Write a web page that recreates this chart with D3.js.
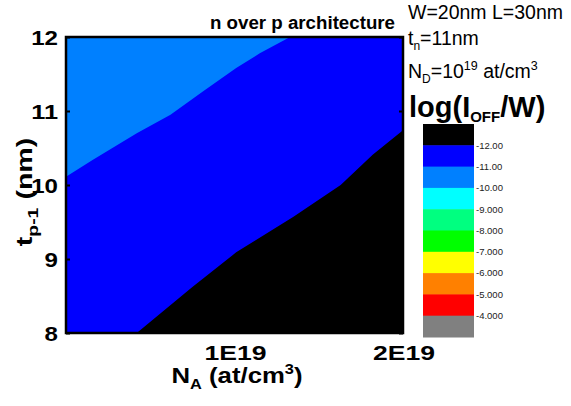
<!DOCTYPE html>
<html><head><meta charset="utf-8">
<script src="https://cdn.jsdelivr.net/npm/d3@7"></script>
<style>body{margin:0;background:#fff}svg{display:block}text{font-family:"Liberation Sans",Arial,sans-serif}</style>
</head><body><svg id="c" width="571" height="406"></svg>
<script>
// ---- data ----
const xTicks = [1e19, 2e19];
const xTickLabels = ["1E19", "2E19"];
const yTicks = [8, 9, 10, 11, 12];
// contour line log(IOFF/W) = -11 (light blue / blue boundary)
const c11_NA = [0, 0.16e19, 0.42e19, 0.62e19, 0.81e19, 1.01e19, 1.15e19, 1.33e19];
const c11_t  = [10.11, 10.34, 10.70, 10.95, 11.26, 11.58, 11.78, 12.0];
// contour line log(IOFF/W) = -12 (blue / black boundary)
const c12_NA = [0.42e19, 0.75e19, 1.01e19, 1.35e19, 1.63e19, 1.82e19, 2.0e19];
const c12_t  = [8.0, 8.62, 9.09, 9.57, 10.0, 10.41, 10.74];
const levelLabels = ["-12.00","-11.00","-10.00","-9.000","-8.000","-7.000","-6.000","-5.000","-4.000"];
const bandColors = ["#000000","#0000ff","#0080ff","#00ffff","#00ff80","#00ff00","#ffff00","#ff8000","#ff0000","#808080"];

// ---- layout ----
const svg = d3.select("#c");
const L = 66, R = 403, T = 37, B = 333;
const x = d3.scaleLinear().domain([0, 2e19]).range([L, R]);
const y = d3.scaleLinear().domain([8, 12]).range([B, T]);

const line = d3.line().x(d => x(d[0])).y(d => y(d[1]));
const zip = (a, b) => a.map((v, i) => [v, b[i]]);
const xmin = x.domain()[0], xmax = x.domain()[1], ymin = y.domain()[0], ymax = y.domain()[1];

// base band (-12..-11)
svg.append("path").attr("d", line([[xmin,ymin],[xmax,ymin],[xmax,ymax],[xmin,ymax]]) + "Z").attr("fill", bandColors[1]);
// light blue band (-11..-10)
svg.append("path").attr("d", line([...zip(c11_NA, c11_t), [xmin, ymax]]) + "Z").attr("fill", bandColors[2]);
// black band (< -12)
svg.append("path").attr("d", line([...zip(c12_NA, c12_t), [xmax, ymin]]) + "Z").attr("fill", bandColors[0]);

// ticks (inward)
const gAxL = svg.append("g").attr("transform", `translate(${L},0)`).call(d3.axisRight(y).tickValues(yTicks).tickSize(4).tickFormat(""));
const gAxR = svg.append("g").attr("transform", `translate(${R},0)`).call(d3.axisLeft(y).tickValues(yTicks).tickSize(4).tickFormat(""));
[gAxL, gAxR].forEach(g => { g.select(".domain").remove(); g.selectAll("line").attr("stroke", "#000").attr("stroke-width", 2); });

// frame
svg.append("rect").attr("x", L).attr("y", T).attr("width", R - L).attr("height", B - T)
  .attr("fill", "none").attr("stroke", "#000").attr("stroke-width", 2.5);

// y tick labels
svg.append("g").selectAll("text").data(yTicks).join("text")
  .attr("x", 58).attr("y", d => y(d)).attr("dy", "0.36em").attr("text-anchor", "end")
  .attr("font-size", 21).attr("font-weight", "bold")
  .attr("textLength", d => String(d).length * 13.4).attr("lengthAdjust", "spacingAndGlyphs")
  .text(d => d);
// x tick labels
svg.append("g").selectAll("text").data(xTicks).join("text")
  .attr("x", d => x(d) + 1).attr("y", 360).attr("text-anchor", "middle")
  .attr("font-size", 21).attr("font-weight", "bold")
  .attr("textLength", 62).attr("lengthAdjust", "spacingAndGlyphs")
  .text((d, i) => xTickLabels[i]);

// x title
const xt = svg.append("text").attr("transform", "translate(237,383) scale(1.17,1)").attr("text-anchor", "middle")
  .attr("font-size", 22).attr("font-weight", "bold");
xt.append("tspan").text("N");
xt.append("tspan").attr("font-size", 14).attr("dy", 6).text("A");
xt.append("tspan").attr("dy", -6).text(" (at/cm");
xt.append("tspan").attr("font-size", 14).attr("dy", -9).text("3");
xt.append("tspan").attr("dy", 9).text(")");

// y title
const yt = svg.append("text").attr("transform", "translate(32,192) rotate(-90) scale(1.3,1)").attr("text-anchor", "middle")
  .attr("font-size", 22).attr("font-weight", "bold");
yt.append("tspan").text("t");
yt.append("tspan").attr("font-size", 15).attr("dy", 6).text("p-1");
yt.append("tspan").attr("dy", -6).text(" (nm)");

// plot title
svg.append("text").attr("x", 210).attr("y", 29).attr("font-size", 18).attr("font-weight", "bold")
  .attr("textLength", 185).attr("lengthAdjust", "spacingAndGlyphs").text("n over p architecture");

// annotations
svg.append("text").attr("x", 408).attr("y", 19).attr("font-size", 19.5).text("W=20nm L=30nm");
const t2 = svg.append("text").attr("x", 408).attr("y", 45).attr("font-size", 19.5);
t2.append("tspan").text("t");
t2.append("tspan").attr("font-size", 12).attr("dy", 5).text("n");
t2.append("tspan").attr("dy", -5).text("=11nm");
const t3 = svg.append("text").attr("x", 408).attr("y", 78).attr("font-size", 19.5);
t3.append("tspan").text("N");
t3.append("tspan").attr("font-size", 12).attr("dy", 5).text("D");
t3.append("tspan").attr("dy", -5).text("=10");
t3.append("tspan").attr("font-size", 12.5).attr("dy", -8).text("19");
t3.append("tspan").attr("dy", 8).text(" at/cm");
t3.append("tspan").attr("font-size", 12.5).attr("dy", -8).text("3");
const t4 = svg.append("text").attr("x", 409).attr("y", 117).attr("font-size", 29).attr("font-weight", "bold");
t4.append("tspan").text("log(I");
t4.append("tspan").attr("font-size", 15).attr("dy", 5).text("OFF");
t4.append("tspan").attr("dy", -5).text("/W)");

// colorbar
const cb = d3.scaleBand().domain(d3.range(bandColors.length)).range([124, 337]);
svg.append("g").selectAll("rect").data(bandColors).join("rect")
  .attr("x", 423).attr("width", 51).attr("y", (d, i) => cb(i)).attr("height", cb.bandwidth() + 0.5).attr("fill", d => d);
svg.append("g").selectAll("text").data(levelLabels).join("text")
  .attr("x", 476).attr("y", (d, i) => cb(i + 1)).attr("dy", "0.35em")
  .attr("font-size", 9.5).attr("fill", "#222").text(d => d);
</script></body></html>
